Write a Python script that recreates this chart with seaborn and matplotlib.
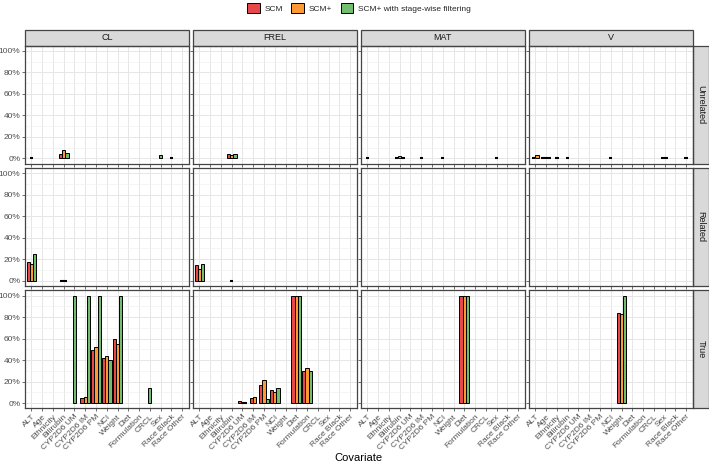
import pandas as pd
import matplotlib
matplotlib.use("Agg")
import matplotlib.pyplot as plt
from matplotlib.patches import Rectangle, Patch
from matplotlib.ticker import MultipleLocator, FuncFormatter
import seaborn as sns

COVARIATES = ["ALT", "Age", "Ethnicity", "Bilirubin", "CYP2D6 UM", "CYP2D6 IM",
              "CYP2D6 PM", "NCI", "Weight", "Diet", "Formulation", "CRCL",
              "Sex", "Race Black", "Race Other"]
PARAMS = ["CL", "FREL", "MAT", "V"]
RELATIONS = ["Unrelated", "Related", "True"]
METHODS = ["SCM", "SCM+", "SCM+ with stage-wise filtering"]
COLORS = ["#E9484A", "#FF9933", "#71BF6E"]

# (covariate, SCM, SCM+, SCM+ with filtering) in %, None = not present
CL_UNRELATED = [("ALT", None, 0, None), ("Bilirubin", 4, 8, 5),
                ("Sex", None, None, 3), ("Race Black", None, 0, None)]
FREL_UNRELATED = [("Bilirubin", 4, 3, 4)]
MAT_UNRELATED = [("ALT", None, 0, None), ("Bilirubin", 0, 2, 0),
                 ("CYP2D6 IM", None, 0, None), ("NCI", None, 0, None),
                 ("Sex", None, 0, None)]
V_UNRELATED = [("ALT", 0, 3, None), ("Age", 0, 0, 0), ("Ethnicity", None, 0, None),
               ("Bilirubin", None, 0, None), ("NCI", None, 0, None),
               ("Sex", 0, 0, None), ("Race Other", None, 0, None)]

CL_RELATED = [("ALT", 17, 16, 25), ("Bilirubin", 0, 0, None)]
FREL_RELATED = [("ALT", 15, 11, 16), ("Bilirubin", None, 0, None)]
MAT_RELATED = []
V_RELATED = []

CL_TRUE = [("CYP2D6 UM", None, None, 100), ("CYP2D6 IM", 5, 6, 100),
           ("CYP2D6 PM", 49, 52, 100), ("NCI", 42, 44, 40),
           ("Weight", 60, 55, 100), ("CRCL", None, None, 14)]
FREL_TRUE = [("CYP2D6 UM", 2, 0, 0), ("CYP2D6 IM", 5, 6, None),
             ("CYP2D6 PM", 17, 21, 4), ("NCI", 12, 10, 14),
             ("Diet", 100, 100, 100), ("Formulation", 30, 33, 30)]
MAT_TRUE = [("Diet", 100, 100, 100)]
V_TRUE = [("Weight", 84, 83, 100)]

FACETS = {
    ("CL", "Unrelated"): CL_UNRELATED, ("FREL", "Unrelated"): FREL_UNRELATED,
    ("MAT", "Unrelated"): MAT_UNRELATED, ("V", "Unrelated"): V_UNRELATED,
    ("CL", "Related"): CL_RELATED, ("FREL", "Related"): FREL_RELATED,
    ("MAT", "Related"): MAT_RELATED, ("V", "Related"): V_RELATED,
    ("CL", "True"): CL_TRUE, ("FREL", "True"): FREL_TRUE,
    ("MAT", "True"): MAT_TRUE, ("V", "True"): V_TRUE,
}

rows = []
for (par, rel), entries in FACETS.items():
    for cov, *vals in entries:
        for m, v in zip(METHODS, vals):
            if v is not None:
                rows.append({"param": par, "relation": rel, "covariate": cov,
                             "method": m, "value": v})
df = pd.DataFrame(rows)

sns.set_theme(style="white")
plt.rcParams["font.family"] = ["Liberation Sans", "DejaVu Sans"]

BAR_W = 0.3
COLOR_OF = dict(zip(METHODS, COLORS))


def draw_bars(data, **kws):
    # dodge like ggplot's preserve="single": present bars centred on the category
    ax = plt.gca()
    for cov, grp in data.groupby("covariate", sort=False):
        n = len(grp)
        for k, (_, r) in enumerate(grp.iterrows()):
            x = COVARIATES.index(cov) + 1 + (k - (n - 1) / 2) * BAR_W
            ax.bar(x, r["value"], width=BAR_W, color=COLOR_OF[r["method"]],
                   edgecolor="black", linewidth=1.5 if r["value"] == 0 else 0.7,
                   zorder=3)


g = sns.FacetGrid(df, row="relation", col="param", row_order=RELATIONS,
                  col_order=PARAMS, sharex=True, sharey=True, despine=False,
                  height=1.2, aspect=1.4)
g.map_dataframe(draw_bars)

fig = g.figure
fig.set_size_inches(7.09, 4.67)
fig.subplots_adjust(left=25 / 709, right=692.5 / 709, top=1 - 45.6 / 467,
                    bottom=1 - 408.4 / 467, wspace=0.0275, hspace=0.0357)

STRIP_H = 15.5 / 118.1
STRIP_W = 16.5 / 163.5
for i, rel in enumerate(RELATIONS):
    for j, par in enumerate(PARAMS):
        ax = g.axes[i, j]
        ax.set_title("")
        ax.set_xlabel("")
        ax.set_ylabel("")
        ax.set_xlim(0.4, 15.6)
        ax.set_ylim(-5, 105)
        ax.set_xticks(range(1, len(COVARIATES) + 1))
        ax.set_xticklabels(COVARIATES, rotation=45, ha="right", va="top",
                           rotation_mode="anchor")
        ax.yaxis.set_major_locator(MultipleLocator(20))
        ax.yaxis.set_minor_locator(MultipleLocator(10))
        ax.yaxis.set_major_formatter(FuncFormatter(lambda v, _: f"{v:.0f}%"))
        ax.set_axisbelow(True)
        ax.grid(which="major", color="#E6E6E6", linewidth=0.7)
        ax.grid(which="minor", axis="y", color="#F0F0F0", linewidth=0.45)
        ax.tick_params(which="major", length=2.2, width=0.5, color="#333333",
                       labelsize=6, labelcolor="#4D4D4D", pad=1.2,
                       bottom=True, left=True,
                       labelbottom=(i == 2), labelleft=(j == 0))
        ax.tick_params(which="minor", length=0)
        for sp in ax.spines.values():
            sp.set_color("#444444")
            sp.set_linewidth(0.9)
        if i == 0:
            ax.add_patch(Rectangle((0, 1), 1, STRIP_H, transform=ax.transAxes,
                                   clip_on=False, facecolor="#D9D9D9",
                                   edgecolor="#444444", linewidth=0.9))
            ax.text(0.5, 1 + STRIP_H / 2, par, transform=ax.transAxes,
                    ha="center", va="center", fontsize=6.5, color="#1A1A1A")
        if j == len(PARAMS) - 1:
            ax.add_patch(Rectangle((1, 0), STRIP_W, 1, transform=ax.transAxes,
                                   clip_on=False, facecolor="#D9D9D9",
                                   edgecolor="#444444", linewidth=0.9))
            ax.text(1 + STRIP_W / 2, 0.5, rel, transform=ax.transAxes,
                    rotation=-90, ha="center", va="center", fontsize=6.5,
                    color="#1A1A1A")

fig.text(358.75 / 709, 1 - 458 / 467, "Covariate", ha="center", va="center",
         fontsize=8, color="black")

handles = [Patch(facecolor=c, edgecolor="black", linewidth=0.7) for c in COLORS]
fig.legend(handles, METHODS, loc="center", bbox_to_anchor=(359 / 709, 1 - 8 / 467),
           ncol=3, frameon=False, fontsize=6, handlelength=1.5,
           handleheight=1.6, handletextpad=0.6, columnspacing=1.0)

fig.savefig("out.png", dpi=100)
